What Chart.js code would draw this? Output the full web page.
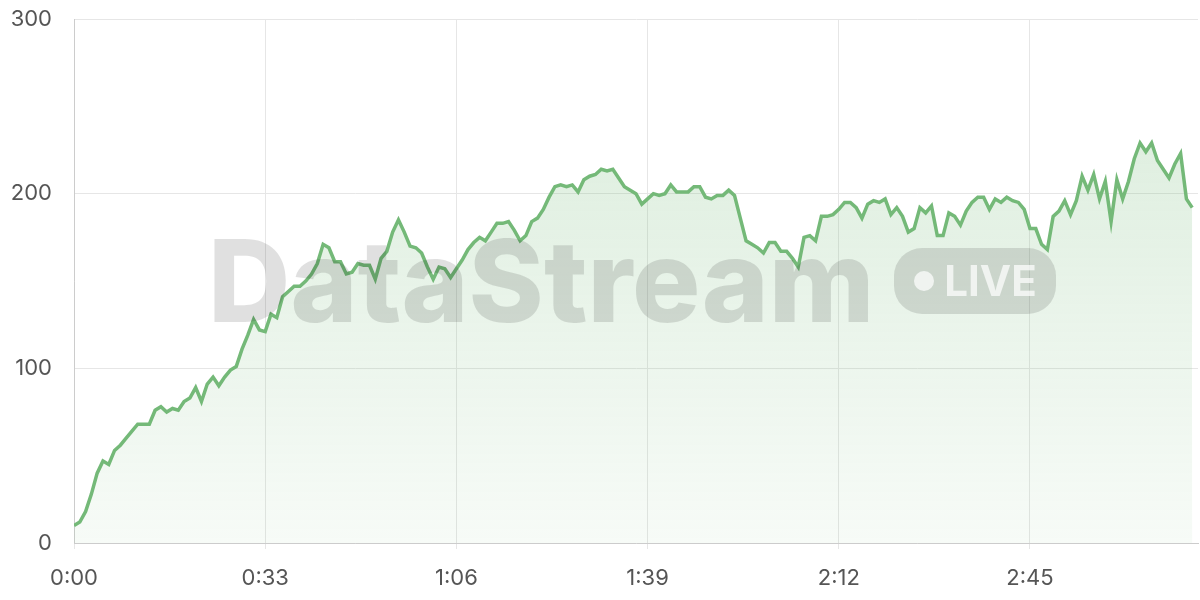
<!DOCTYPE html>
<html>
<head>
<meta charset="utf-8">
<script src="https://cdn.jsdelivr.net/npm/chart.js@4/dist/chart.umd.min.js"></script>
<style>
  html, body { margin: 0; padding: 0; background: #fff; }
  #wrap { position: relative; width: 1200px; height: 600px; }
  #watermark {
    position: absolute; left: 208px; top: 212px; pointer-events: none;
    display: flex; align-items: center; font-family: Inter, "Noto Sans", sans-serif;
  }
  #watermark .name { font-size: 114px; font-weight: 800; letter-spacing: 0px; color: rgba(0,0,0,0.12); }
  #watermark .live {
    margin-left: 20px; background: rgba(0,0,0,0.12); color: rgba(255,255,255,0.7);
    border-radius: 28px; height: 66px; width: 162px; display: flex; align-items: center;
    justify-content: center; font-size: 42px; font-weight: 700; box-sizing: border-box;
  }
  #watermark .dot { width: 20px; height: 20px; border-radius: 50%; background: rgba(255,255,255,0.7); margin-right: 10px; }
</style>
</head>
<body>
<div id="wrap">
  <canvas id="chart" width="1200" height="600"></canvas>
  <div id="watermark"><span class="name">DataStream</span><span class="live"><span class="dot"></span>LIVE</span></div>
</div>
<script>
// seconds since start, one sample per second
const values = [
  10, 12, 18, 28, 40, 47, 45, 53, 56, 60, 64, 68, 68, 68, 76, 78, 75, 77, 76, 81,
  83, 89, 81, 91, 95, 90, 95, 99, 101, 111, 119, 128, 122, 121, 131, 129, 141, 144, 147, 147,
  150, 154, 160, 171, 169, 161, 161, 154, 155, 160, 159, 159, 151, 163, 167, 178, 185, 178, 170, 169,
  166, 158, 151, 158, 157, 152, 157, 162, 168, 172, 175, 173, 178, 183, 183, 184, 179, 173, 176, 184,
  186, 191, 198, 204, 205, 204, 205, 201, 208, 210, 211, 214, 213, 214, 209, 204, 202, 200, 194, 197,
  200, 199, 200, 205, 201, 201, 201, 204, 204, 198, 197, 199, 199, 202, 199, 186, 173, 171, 169, 166,
  172, 172, 167, 167, 163, 158, 175, 176, 173, 187, 187, 188, 191, 195, 195, 192, 186, 194, 196, 195,
  197, 188, 192, 187, 178, 180, 192, 189, 193, 176, 176, 189, 187, 182, 190, 195, 198, 198, 191, 197,
  195, 198, 196, 195, 191, 180, 180, 171, 168, 187, 190, 196, 188, 196, 210, 202, 211, 197, 207, 184,
  208, 197, 207, 220, 229, 224, 229, 219, 214, 209, 217, 223, 197, 192
];
const xTicks = [0, 33, 66, 99, 132, 165];
const yTicks = [0, 100, 200, 300];

function fmtTime(s) {
  const m = Math.floor(s / 60);
  const r = s % 60;
  return m + ':' + String(r).padStart(2, '0');
}

const points = values.map((v, i) => ({ x: i, y: v }));
const ctx = document.getElementById('chart').getContext('2d');

new Chart(ctx, {
  type: 'line',
  data: {
    datasets: [{
      data: points,
      borderColor: '#74b978',
      borderWidth: 3.5,
      pointRadius: 0,
      tension: 0,
      fill: 'origin',
      backgroundColor: (c) => {
        const area = c.chart.chartArea;
        if (!area) return 'rgba(116,185,120,0.15)';
        const g = c.chart.ctx.createLinearGradient(0, area.top, 0, area.bottom);
        g.addColorStop(0, 'rgba(116,185,120,0.28)');
        g.addColorStop(1, 'rgba(116,185,120,0.06)');
        return g;
      }
    }]
  },
  options: {
    responsive: false,
    animation: false,
    layout: { padding: { top: 19, right: 2, left: 0, bottom: 0 } },
    plugins: { legend: { display: false }, tooltip: { enabled: false } },
    scales: {
      x: {
        type: 'linear', min: 0, max: 194,
        afterBuildTicks: (axis) => { axis.ticks = xTicks.map(v => ({ value: v })); },
        afterFit: (axis) => { axis.height = 57; axis.paddingLeft = 0; axis.paddingRight = 0; },
        ticks: { callback: (v) => fmtTime(v), color: '#555', font: { size: 22, family: 'Inter' }, padding: 16, maxRotation: 0 },
        grid: { color: '#e6e6e6', drawTicks: true, tickLength: 6 },
        border: { color: '#ccc' }
      },
      y: {
        min: 0, max: 300,
        afterBuildTicks: (axis) => { axis.ticks = yTicks.map(v => ({ value: v })); },
        afterFit: (axis) => { axis.width = 74; axis.paddingTop = 0; axis.paddingBottom = 0; },
        ticks: { color: '#555', font: { size: 22, family: 'Inter' }, padding: 22 },
        grid: { color: '#e6e6e6', tickLength: 0 },
        border: { color: '#ccc' }
      }
    }
  }
});
</script>
</body>
</html>
